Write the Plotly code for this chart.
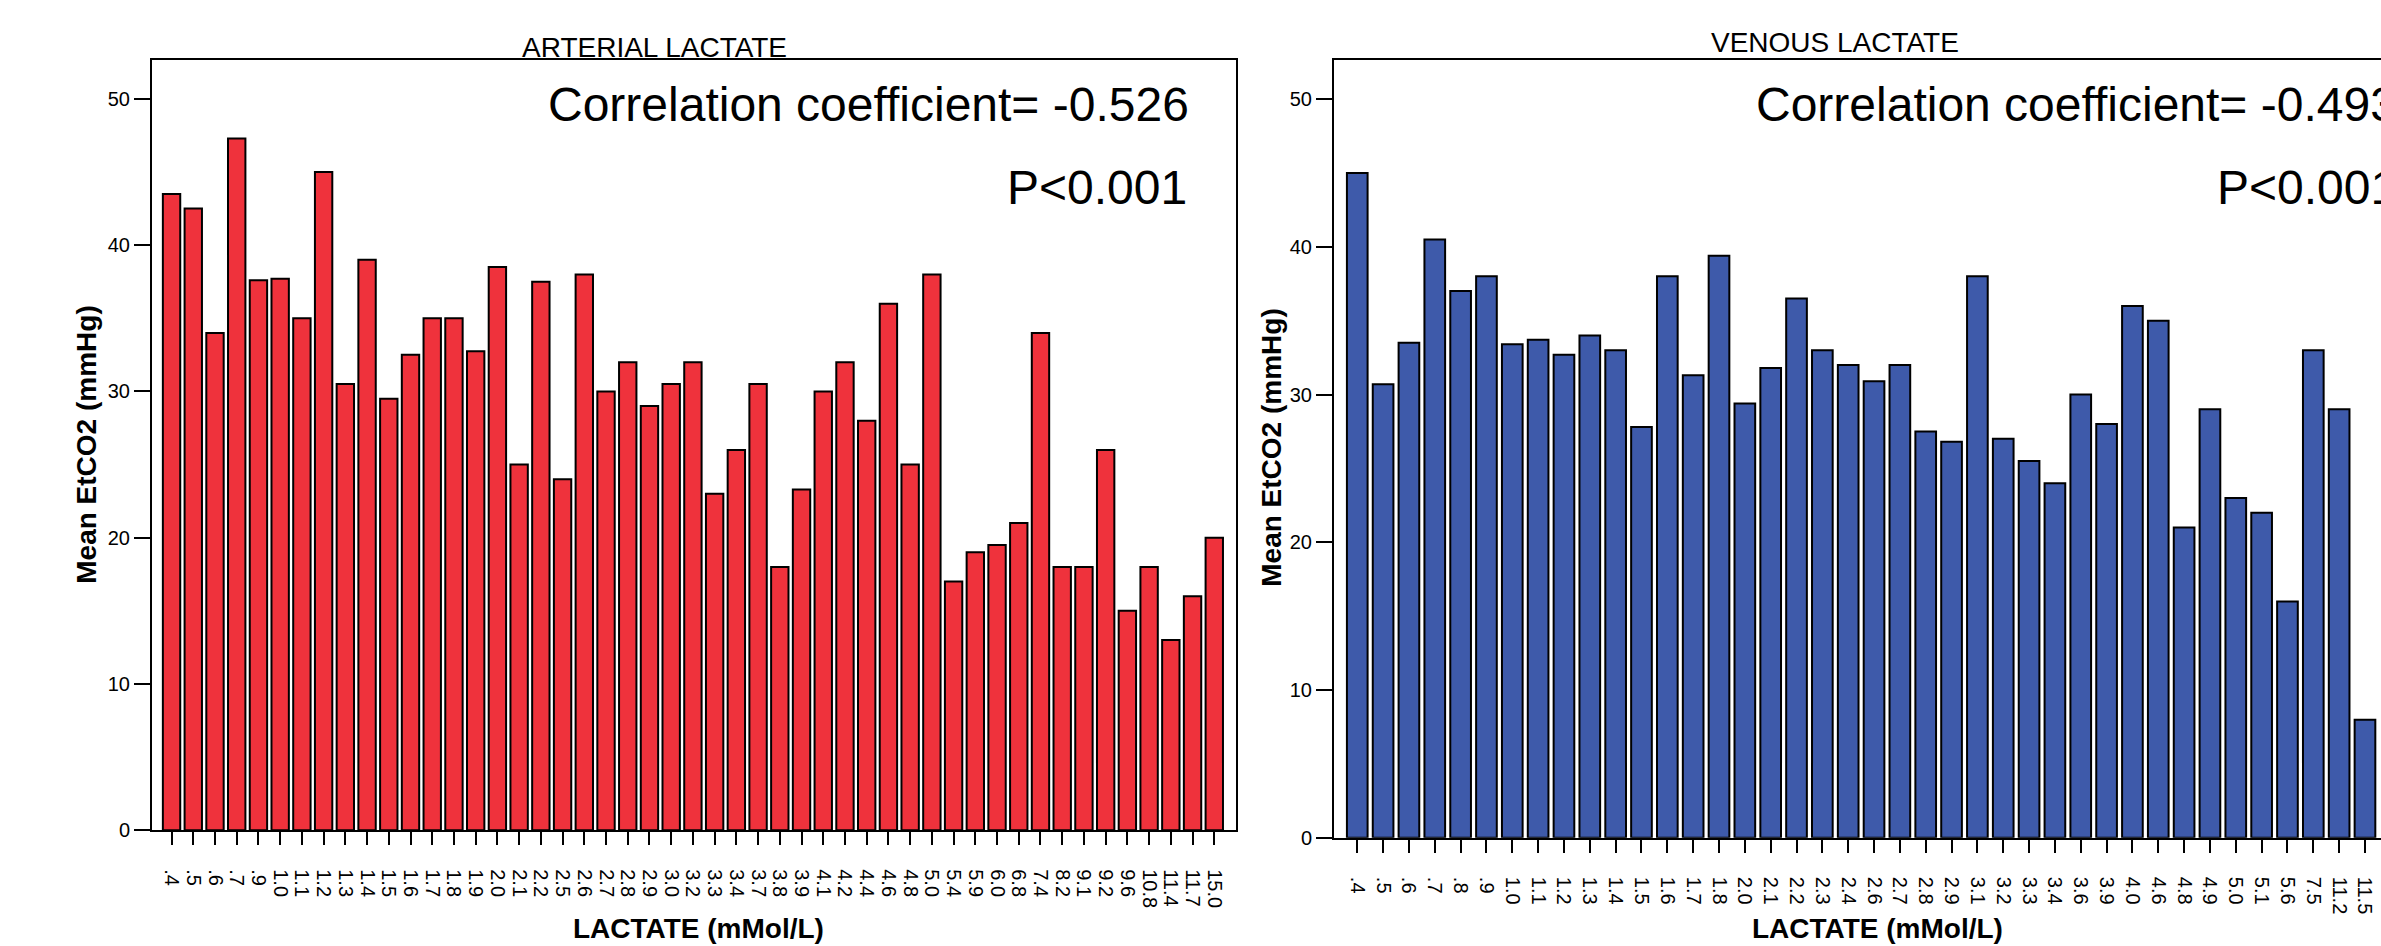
import plotly.graph_objects as go

W, H = 2381, 946

# ---------------- data ----------------
art_labels = [".4", ".5", ".6", ".7", ".9", "1.0", "1.1", "1.2", "1.3", "1.4", "1.5", "1.6",
              "1.7", "1.8", "1.9", "2.0", "2.1", "2.2", "2.5", "2.6", "2.7", "2.8", "2.9", "3.0",
              "3.2", "3.3", "3.4", "3.7", "3.8", "3.9", "4.1", "4.2", "4.4", "4.6", "4.8", "5.0",
              "5.4", "5.9", "6.0", "6.8", "7.4", "8.2", "9.1", "9.2", "9.6", "10.8", "11.4",
              "11.7", "15.0"]
art_values = [43.5, 42.5, 34.0, 47.3, 37.6, 37.7, 35.0, 45.0, 30.5, 39.0, 29.5, 32.5,
              35.0, 35.0, 32.75, 38.5, 25.0, 37.5, 24.0, 38.0, 30.0, 32.0, 29.0, 30.5,
              32.0, 23.0, 26.0, 30.5, 18.0, 23.3, 30.0, 32.0, 28.0, 36.0, 25.0, 38.0,
              17.0, 19.0, 19.5, 21.0, 34.0, 18.0, 18.0, 26.0, 15.0, 18.0, 13.0,
              16.0, 20.0]

ven_labels = [".4", ".5", ".6", ".7", ".8", ".9", "1.0", "1.1", "1.2", "1.3", "1.4", "1.5",
              "1.6", "1.7", "1.8", "2.0", "2.1", "2.2", "2.3", "2.4", "2.6", "2.7", "2.8", "2.9",
              "3.1", "3.2", "3.3", "3.4", "3.6", "3.9", "4.0", "4.6", "4.8", "4.9", "5.0", "5.1",
              "5.6", "7.5", "11.2", "11.5"]
ven_values = [45.0, 30.7, 33.5, 40.5, 37.0, 38.0, 33.4, 33.7, 32.7, 34.0, 33.0, 27.8,
              38.0, 31.3, 39.4, 29.4, 31.8, 36.5, 33.0, 32.0, 30.9, 32.0, 27.5, 26.8,
              38.0, 27.0, 25.5, 24.0, 30.0, 28.0, 36.0, 35.0, 21.0, 29.0, 23.0, 22.0,
              16.0, 33.0, 29.0, 8.0]

y_ticks = [0, 10, 20, 30, 40, 50]

panel_titles = ["ARTERIAL LACTATE", "VENOUS LACTATE"]
corr_texts = ["Correlation coefficient= -0.526", "Correlation coefficient= -0.493"]
p_texts = ["P<0.001", "P<0.001"]
x_title = "LACTATE (mMol/L)"
y_title = "Mean EtCO2 (mmHg)"

RED = "#EF323C"
BLUE = "#3E5AAA"
FONT = "Liberation Sans, Arial, sans-serif"


def px(x):
    return x / W


def py(y):
    return 1 - y / H


fig = go.Figure()
fig.add_trace(go.Bar(x=art_labels, y=art_values, xaxis="x", yaxis="y",
                     marker=dict(color=RED, line=dict(color="black", width=2)),
                     showlegend=False))
fig.add_trace(go.Bar(x=ven_labels, y=ven_values, xaxis="x2", yaxis="y2",
                     marker=dict(color=BLUE, line=dict(color="black", width=2)),
                     showlegend=False))

common_x = dict(type="category", showgrid=False, zeroline=False, showline=True,
                linecolor="black", linewidth=2, ticks="outside", ticklen=13,
                tickwidth=2, tickcolor="black", tickangle=90, tickmode="array",
                ticklabelstandoff=20,
                tickfont=dict(family=FONT, size=20, color="black"), fixedrange=True)
common_y = dict(showgrid=False, zeroline=False, showline=True, linecolor="black",
                linewidth=2, ticks="outside", ticklen=16, tickwidth=2, tickcolor="black",
                tickvals=y_ticks, tickfont=dict(family=FONT, size=20, color="black"),
                fixedrange=True)

fig.update_layout(
    width=W, height=H,
    margin=dict(l=0, r=0, t=0, b=0, pad=0),
    paper_bgcolor="white", plot_bgcolor="white",
    bargap=0.2,
    xaxis=dict(common_x, domain=[px(152), px(1236)], range=[-0.9, 49.0],
               tickvals=art_labels, ticktext=art_labels,
               anchor="y", mirror=True),
    yaxis=dict(common_y, domain=[py(840), py(61)], range=[0, 52.64],
               anchor="x", mirror=True),
    xaxis2=dict(common_x, domain=[px(1334), 1.0], range=[-0.9, 39.62],
                tickvals=ven_labels, ticktext=ven_labels,
                anchor="y2", mirror=True),
    yaxis2=dict(common_y, domain=[py(847.7), py(61)], range=[0, 52.62],
                anchor="x2", mirror=False),
)

ann = []
# panel titles
ann.append(dict(text=panel_titles[0], x=px(654), y=py(48), xref="paper", yref="paper",
                xanchor="center", yanchor="middle", showarrow=False,
                font=dict(family=FONT, size=28, color="black")))
ann.append(dict(text=panel_titles[1], x=px(1835), y=py(43), xref="paper", yref="paper",
                xanchor="center", yanchor="middle", showarrow=False,
                font=dict(family=FONT, size=28, color="black")))
# correlation & p texts
ann.append(dict(text=corr_texts[0], x=px(1191), y=py(106), xref="paper", yref="paper",
                xanchor="right", yanchor="middle", showarrow=False,
                font=dict(family=FONT, size=48, color="black")))
ann.append(dict(text=p_texts[0], x=px(1189), y=py(190), xref="paper", yref="paper",
                xanchor="right", yanchor="middle", showarrow=False,
                font=dict(family=FONT, size=48, color="black")))
ann.append(dict(text=corr_texts[1], x=px(1754), y=py(106), xref="paper", yref="paper",
                xanchor="left", yanchor="middle", showarrow=False,
                font=dict(family=FONT, size=48, color="black")))
ann.append(dict(text=p_texts[1], x=px(2215), y=py(190), xref="paper", yref="paper",
                xanchor="left", yanchor="middle", showarrow=False,
                font=dict(family=FONT, size=48, color="black")))
# axis titles
for xc, yc in [(87, 450), (1272, 453)]:
    ann.append(dict(text="<b>" + y_title + "</b>", x=px(xc), y=py(yc), xref="paper",
                    yref="paper", xanchor="center", yanchor="middle", textangle=-90,
                    showarrow=False, font=dict(family=FONT, size=28, color="black")))
for xc, yc in [(698, 939), (1877, 939)]:
    ann.append(dict(text="<b>" + x_title + "</b>", x=px(xc), y=py(yc), xref="paper",
                    yref="paper", xanchor="center", yanchor="middle",
                    showarrow=False, font=dict(family=FONT, size=28, color="black")))

fig.update_layout(annotations=ann)
fig.write_html("out.html", config={"displayModeBar": False})
